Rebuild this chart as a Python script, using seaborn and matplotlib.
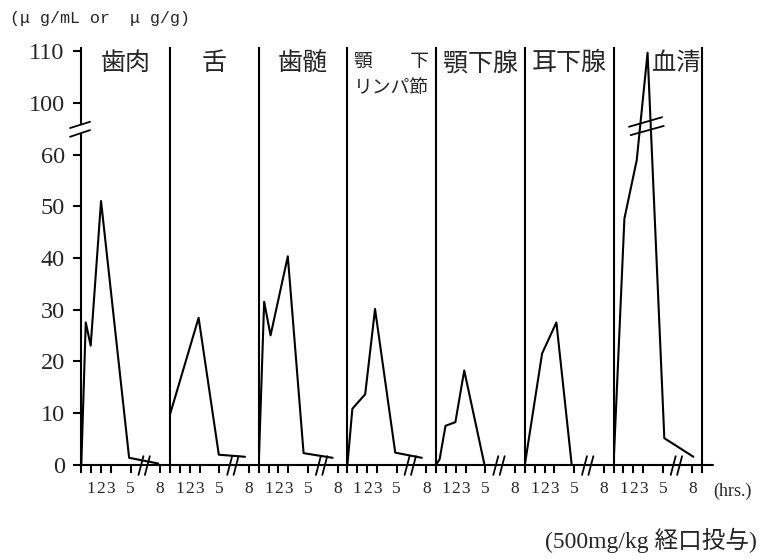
# -*- coding: utf-8 -*-
"""
Tissue concentration after oral dose, one panel per tissue
"""

import numpy as np
import seaborn as sns
import matplotlib.pyplot as plt

#%% data (hrs after dosing, ug/mL or ug/g)
tissues = ["歯肉", "舌", "歯髄", "顎　　下\nリンパ節", "顎下腺", "耳下腺", "血清"]

t_gum = [0, 0.45, 0.95, 2.0, 4.85, 7.8]
c_gum = [0, 27.5, 23, 51, 1.3, 0.2]

t_tongue = [0, 2.9, 4.95, 7.6]
c_tongue = [9.7, 28.4, 1.9, 1.5]

t_pulp = [0, 0.55, 1.2, 2.95, 4.55, 7.5]
c_pulp = [0, 31.5, 25, 40.3, 2.2, 1.3]

t_lymph = [0, 0.5, 1.8, 2.8, 4.85, 7.55]
c_lymph = [0, 10.8, 13.6, 30.1, 2.3, 1.3]

t_subm = [0, 0.35, 0.95, 1.95, 2.85, 4.9]
c_subm = [0, 1.0, 7.5, 8.2, 18.2, 0]

t_parotid = [0, 1.75, 3.2, 4.75]
c_parotid = [0, 21.5, 27.5, 0]

t_serum = [0, 1.1, 2.35, 3.45, 5.15, 8.1]
c_serum = [0, 47.6, 58.9, 109.7, 5.1, 1.5]

times = [t_gum, t_tongue, t_pulp, t_lymph, t_subm, t_parotid, t_serum]
concs = [c_gum, c_tongue, c_pulp, c_lymph, c_subm, c_parotid, c_serum]

xticks = [0, 1, 2, 3, 5, 8]
xticklabels = ["", "1", "2", "3", "5", "8"]
yticks = [0, 10, 20, 30, 40, 50, 60, 100, 110]


#%% broken y axis: 60-100 squeezed into one step
def fwd(y):
    y = np.asarray(y, dtype=float)
    return np.where(y <= 60, y, np.where(y < 100, 60 + (y - 60) / 4, y - 30))


def inv(z):
    z = np.asarray(z, dtype=float)
    return np.where(z <= 60, z, np.where(z < 70, 60 + (z - 60) * 4, z + 30))


#%% plot
sns.set_style("ticks")
plt.rcParams["font.family"] = ["Liberation Serif", "Noto Sans CJK JP"]
LW = 1.5

fig, axes = plt.subplots(1, 7, sharey=True, figsize=(7.65, 5.59), dpi=100)
fig.subplots_adjust(left=0.1063, right=0.918, bottom=0.169, top=0.914, wspace=0)

for i, ax in enumerate(axes):
    ax.set_yscale("function", functions=(fwd, inv))
    sns.lineplot(x=times[i], y=concs[i], ax=ax, color="black", lw=LW,
                 estimator=None, sort=False)
    ax.set_xlim(0, 9)
    ax.set_ylim(0, 110.6)
    ax.set_xlabel("")
    ax.set_ylabel("")

    for side in ["top", "right"]:
        ax.spines[side].set_visible(False)
    for side in ["left", "bottom", "right"]:
        ax.spines[side].set_linewidth(LW)
        ax.spines[side].set_color("black")

    if i == len(axes) - 1:
        ax.spines["right"].set_visible(True)
        ax.set_xticks(xticks + [9])
        ax.set_xticklabels(xticklabels + [""])
    else:
        ax.set_xticks(xticks)
        ax.set_xticklabels(xticklabels)
    ax.tick_params(axis="x", direction="out", length=6, width=LW,
                   labelsize=12.5, pad=6, color="black")
    ax.minorticks_off()

    # break marks between 5 and 8 hrs
    tr = ax.get_xaxis_transform()
    for x0 in [5.8, 6.45]:
        ax.plot([x0, x0 + 0.5], [-0.025, 0.02], color="black", lw=1.3,
                transform=tr, clip_on=False, zorder=5)

    # panel titles
    if i == 3:
        ax.text(0.5, 0.966, "顎　　下", ha="center", va="center",
                fontsize=13.5, transform=ax.transAxes)
        ax.text(0.5, 0.903, "リンパ節", ha="center", va="center",
                fontsize=13.5, transform=ax.transAxes)
    elif i == 6:
        ax.text(0.975, 0.963, tissues[i], ha="right", va="center",
                fontsize=17.5, transform=ax.transAxes)
    else:
        ax.text(0.5, 0.963, tissues[i], ha="center", va="center",
                fontsize=18, transform=ax.transAxes)

# y axis only on the first panel
axes[0].set_yticks(yticks)
axes[0].set_yticklabels([str(v) for v in yticks])
axes[0].tick_params(axis="y", direction="out", length=6, width=LW,
                    labelsize=17.5, pad=6, color="black")
for ax in axes[1:]:
    ax.tick_params(axis="y", left=False, labelleft=False)

# break on the y axis
ax0 = axes[0]
ax0.plot([0, 0], [0.799, 0.814], color="white", lw=3, transform=ax0.transAxes,
         clip_on=False, zorder=4)
ax0.plot([-0.127, 0.098], [0.808, 0.823], color="black", lw=1.3,
         transform=ax0.transAxes, clip_on=False, zorder=5)
ax0.plot([-0.127, 0.098], [0.787, 0.803], color="black", lw=1.3,
         transform=ax0.transAxes, clip_on=False, zorder=5)

# break on the serum line
axs = axes[6]
axs.plot([0.174, 0.547], [0.811, 0.834], color="black", lw=1.3,
         transform=axs.transAxes, clip_on=False, zorder=5)
axs.plot([0.193, 0.566], [0.791, 0.813], color="black", lw=1.3,
         transform=axs.transAxes, clip_on=False, zorder=5)

# baseline runs a little past the last panel
axs.plot([1, 1.12], [0, 0], color="black", lw=LW, transform=axs.transAxes,
         clip_on=False)

fig.text(10 / 765, 1 - 19 / 559, "(μ g/mL or  μ g/g)", ha="left", va="center",
         fontsize=12, family=["Liberation Mono", "Noto Sans CJK JP"])
fig.text(713 / 765, 1 - 491 / 559, "(hrs.)", ha="left", va="center",
         fontsize=13)
fig.text(757 / 765, 1 - 540 / 559, "(500mg/kg 経口投与)", ha="right", va="center",
         fontsize=17)

plt.savefig("out.png", dpi=100)
